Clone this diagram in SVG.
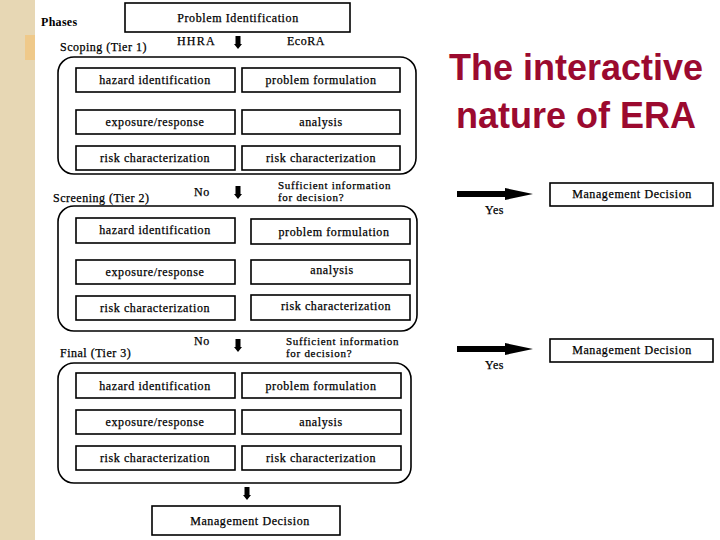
<svg xmlns="http://www.w3.org/2000/svg" width="720" height="540" viewBox="0 0 720 540">
<style>
.bg{fill:#ffffff}
.parch{fill:#e7d7b4}
.box{fill:#ffffff;stroke:#000;stroke-width:1.6}
.tier{fill:none;stroke:#000;stroke-width:1.6}
.t{font-family:"Liberation Serif","Times New Roman",serif;font-size:12px;fill:#000;text-anchor:middle;letter-spacing:0.6px;stroke:#000;stroke-width:0.25}
.tl{font-family:"Liberation Serif","Times New Roman",serif;font-size:12px;fill:#000;letter-spacing:0.5px;stroke:#000;stroke-width:0.25}
.ts{font-family:"Liberation Serif","Times New Roman",serif;font-size:11px;fill:#000;letter-spacing:0.7px;stroke:#000;stroke-width:0.25}
.th{font-family:"Liberation Serif","Times New Roman",serif;font-size:12px;font-weight:bold;fill:#000;letter-spacing:0.3px}
.title{font-family:"Liberation Sans",Arial,sans-serif;font-size:36px;font-weight:bold;fill:#9b0a2f;text-anchor:middle}
.arr{fill:#000}
</style>
<defs>
<path id="down" d="M-2.5,0 H2.5 V8 H4 L0,13 L-4,8 H-2.5 Z"/>
<path id="right" d="M0,-3 H48 V-6 L76,0 L48,6 V3 H0 Z"/>
</defs>
<rect class="bg" x="0" y="0" width="720" height="540"/>
<rect class="parch" x="0" y="0" width="35" height="540"/>
<rect x="25" y="35" width="10" height="25" fill="#efc98a"/>

<g id="title">
<text class="title" x="576" y="80">The interactive</text>
<text class="title" x="576" y="128">nature of ERA</text>
</g>

<g id="labels">
<text class="th" x="41" y="26">Phases</text>
<text class="tl" x="60" y="51">Scoping (Tier 1)</text>
<text class="tl" x="177" y="45" style="letter-spacing:1.2px">HHRA</text>
<text class="tl" x="287" y="45">EcoRA</text>
<text class="tl" x="53" y="202">Screening (Tier 2)</text>
<text class="tl" x="194" y="196">No</text>
<text class="ts" x="278" y="189">Sufficient information</text>
<text class="ts" x="278" y="201">for decision?</text>
<text class="tl" x="60" y="357">Final (Tier 3)</text>
<text class="tl" x="194" y="345">No</text>
<text class="ts" x="286" y="345">Sufficient information</text>
<text class="ts" x="286" y="357">for decision?</text>
<text class="tl" x="485" y="214">Yes</text>
<text class="tl" x="485" y="369">Yes</text>
</g>

<g id="problem-identification">
<rect class="box" x="125" y="3" width="225" height="29"/>
<text class="t" x="238" y="22">Problem Identification</text>
</g>

<g id="tier1">
<rect class="tier" x="58" y="57" width="358" height="117" rx="16"/>
</g>
<g id="t1-hazard"><rect class="box" x="76" y="68" width="159" height="24"/><text class="t" x="155" y="84">hazard identification</text></g>
<g id="t1-problem"><rect class="box" x="242" y="68" width="158" height="24"/><text class="t" x="321" y="84">problem formulation</text></g>
<g id="t1-exposure"><rect class="box" x="76" y="110" width="159" height="24"/><text class="t" x="155" y="126">exposure/response</text></g>
<g id="t1-analysis"><rect class="box" x="242" y="110" width="158" height="24"/><text class="t" x="321" y="126">analysis</text></g>
<g id="t1-risk-h"><rect class="box" x="76" y="146" width="159" height="24"/><text class="t" x="155" y="162">risk characterization</text></g>
<g id="t1-risk-e"><rect class="box" x="242" y="146" width="158" height="24"/><text class="t" x="321" y="162">risk characterization</text></g>

<g id="tier2">
<rect class="tier" x="58" y="206" width="359" height="125" rx="16"/>
</g>
<g id="t2-hazard"><rect class="box" x="76" y="218" width="159" height="25"/><text class="t" x="155" y="234">hazard identification</text></g>
<g id="t2-problem"><rect class="box" x="251" y="219" width="159" height="25"/><text class="t" x="334" y="236">problem formulation</text></g>
<g id="t2-exposure"><rect class="box" x="76" y="260" width="159" height="24"/><text class="t" x="155" y="276">exposure/response</text></g>
<g id="t2-analysis"><rect class="box" x="251" y="260" width="159" height="24"/><text class="t" x="332" y="274">analysis</text></g>
<g id="t2-risk-h"><rect class="box" x="76" y="296" width="159" height="24"/><text class="t" x="155" y="312">risk characterization</text></g>
<g id="t2-risk-e"><rect class="box" x="251" y="295" width="159" height="25"/><text class="t" x="336" y="310">risk characterization</text></g>

<g id="tier3">
<rect class="tier" x="58" y="363" width="353" height="120" rx="16"/>
</g>
<g id="t3-hazard"><rect class="box" x="76" y="373" width="159" height="25"/><text class="t" x="155" y="390">hazard identification</text></g>
<g id="t3-problem"><rect class="box" x="242" y="373" width="159" height="25"/><text class="t" x="321" y="390">problem formulation</text></g>
<g id="t3-exposure"><rect class="box" x="76" y="410" width="159" height="24"/><text class="t" x="155" y="426">exposure/response</text></g>
<g id="t3-analysis"><rect class="box" x="242" y="410" width="159" height="24"/><text class="t" x="321" y="426">analysis</text></g>
<g id="t3-risk-h"><rect class="box" x="76" y="446" width="159" height="24"/><text class="t" x="155" y="462">risk characterization</text></g>
<g id="t3-risk-e"><rect class="box" x="242" y="446" width="159" height="24"/><text class="t" x="321" y="462">risk characterization</text></g>

<g id="decision-1"><rect class="box" x="550" y="183" width="163" height="23"/><text class="t" x="632" y="198">Management Decision</text></g>
<g id="decision-2"><rect class="box" x="550" y="339" width="163" height="23"/><text class="t" x="632" y="354">Management Decision</text></g>
<g id="decision-final"><rect class="box" x="152" y="506" width="188" height="29"/><text class="t" x="250" y="525">Management Decision</text></g>

<g id="connectors">
<use href="#down" class="arr" x="238" y="36"/>
<use href="#down" class="arr" x="238" y="186"/>
<use href="#down" class="arr" x="238" y="339"/>
<use href="#down" class="arr" x="247" y="487"/>
<use href="#right" class="arr" x="457" y="194"/>
<use href="#right" class="arr" x="457" y="349"/>
</g>
</svg>
